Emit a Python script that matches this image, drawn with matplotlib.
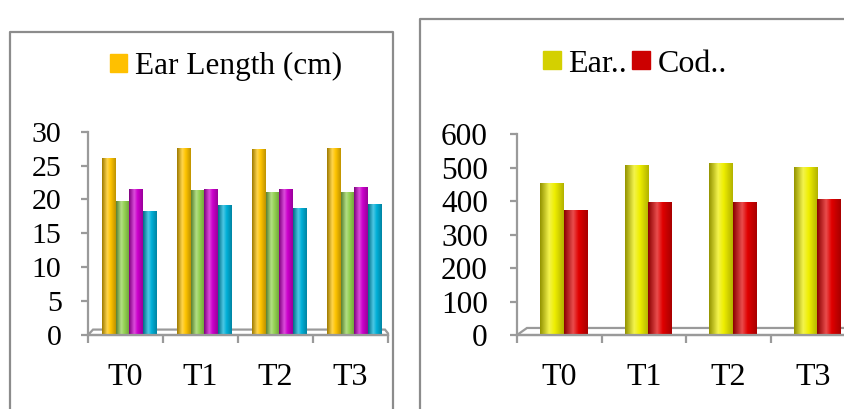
import numpy as np
import matplotlib
matplotlib.use('Agg')
import matplotlib.pyplot as plt
import matplotlib.colors as mcolors
from matplotlib.colors import LinearSegmentedColormap
from matplotlib.patches import Patch, Polygon
from matplotlib.lines import Line2D

plt.rcParams['font.family'] = ['Liberation Serif', 'DejaVu Serif']

categories = ['T0', 'T1', 'T2', 'T3']

# left panel (only the first series is named in the legend)
ear_length = [26.1, 27.6, 27.4, 27.6]
series_2 = [19.8, 21.4, 21.05, 21.05]
series_3 = [21.5, 21.6, 21.6, 21.8]
series_4 = [18.25, 19.2, 18.7, 19.3]
left_colors = ['#FFC400', '#92D050', '#CC00CC', '#00B0D8']

# right panel
ear_vals = [453, 507, 515, 503]
cod_vals = [375, 399, 399, 407]
right_colors = ['#EEEE00', '#E00000']

GRAY = '#9a9a9a'


def cylinder(ax, bars, color):
    base = np.array(mcolors.to_rgb(color))
    dark = base * 0.62
    light = base + (1 - base) * 0.3
    cmap = LinearSegmentedColormap.from_list(
        'cyl', [(0, dark), (0.38, light), (0.62, base), (1, base * 0.75)])
    grad = np.linspace(0, 1, 64).reshape(1, -1)
    for b in bars:
        x0, w, h = b.get_x(), b.get_width(), b.get_height()
        im = ax.imshow(grad, extent=[x0, x0 + w, 0, h], aspect='auto',
                       cmap=cmap, zorder=3, interpolation='bilinear')
        im.set_clip_path(b)


def setup(ax, ymax, ystep, dx, dy, ypad, ysize):
    n = len(categories)
    ax.set_xlim(-0.5, n - 0.5)
    ax.set_ylim(0, ymax)
    for s in ['top', 'right', 'bottom']:
        ax.spines[s].set_visible(False)
    ax.spines['left'].set_color(GRAY)
    ax.spines['left'].set_linewidth(1.6)
    ax.set_yticks(np.arange(0, ymax + 1, ystep))
    ax.set_xticks(np.arange(-0.5, n, 1.0))
    ax.set_xticklabels([])
    ax.set_xticks(np.arange(n), minor=True)
    ax.set_xticklabels(categories, minor=True, fontsize=23)
    ax.tick_params(axis='x', which='major', direction='out', length=6,
                   width=1.6, color=GRAY)
    ax.tick_params(axis='x', which='minor', length=0, pad=20)
    ax.tick_params(axis='y', direction='out', length=5, width=1.6,
                   color=GRAY, labelsize=ysize, pad=ypad)
    # floor of the 3d plot
    x0, x1 = -0.5, n - 0.5
    floor = Polygon([(x0, 0), (x0 + dx, dy), (x1 - dx * 0.6, dy),
                     (x1, dy * 0.3), (x1, 0)], closed=True,
                    facecolor='white', edgecolor=GRAY, lw=1.6,
                    zorder=1, clip_on=False)
    ax.add_patch(floor)
    ax.plot([x0, x1], [0, 0], color=GRAY, lw=1.6, zorder=5, clip_on=False)


fig = plt.figure(figsize=(8.45, 4.09), dpi=100)

# panel borders
fig.add_artist(Line2D([10/845, 10/845, 393/845, 393/845],
                      [-0.01, 1 - 32/409, 1 - 32/409, -0.01],
                      color='#8c8c8c', lw=1.6, transform=fig.transFigure))
fig.add_artist(Line2D([420/845, 420/845, 1.01],
                      [-0.01, 1 - 19/409, 1 - 19/409],
                      color='#8c8c8c', lw=1.6, transform=fig.transFigure))

# left chart
ax1 = fig.add_axes([88/845, 74/409, 300/845, 203.3/409])
x = np.arange(len(categories))
w = 0.18
off = 0.047
left_series = [ear_length, series_2, series_3, series_4]
for i, (vals, c) in enumerate(zip(left_series, left_colors)):
    bars = ax1.bar(x + off + (i - 1.5) * w, vals, w, color=c, zorder=2)
    cylinder(ax1, bars, c)
setup(ax1, 30, 5, 0.067, 0.8, 14, 21.5)

fig.legend([Patch(color='#FFC000')], ['Ear Length (cm)'],
           loc='center left', bbox_to_anchor=(110/845, 0.838),
           frameon=False, fontsize=22.5, handlelength=0.55, handleheight=0.5,
           handletextpad=0.25, borderpad=0, borderaxespad=0)

# right chart
ax2 = fig.add_axes([517/845, 74/409, 338/845, 200.7/409])
w2 = 0.278
off2 = 0.053
for i, (vals, c) in enumerate(zip([ear_vals, cod_vals], right_colors)):
    bars = ax2.bar(x + off2 + (i - 0.5) * w2, vals, w2, color=c, zorder=2)
    cylinder(ax2, bars, c)
setup(ax2, 600, 100, 0.118, 21, 16, 22.5)

fig.legend([Patch(color='#D4D000'), Patch(color='#CC0000')],
           ['Ear..', 'Cod..'], ncol=2,
           loc='center left', bbox_to_anchor=(543/845, 0.843),
           frameon=False, fontsize=23, handlelength=0.55, handleheight=0.5,
           handletextpad=0.25, columnspacing=0.15, borderpad=0,
           borderaxespad=0)

plt.savefig('out.png', dpi=100)
